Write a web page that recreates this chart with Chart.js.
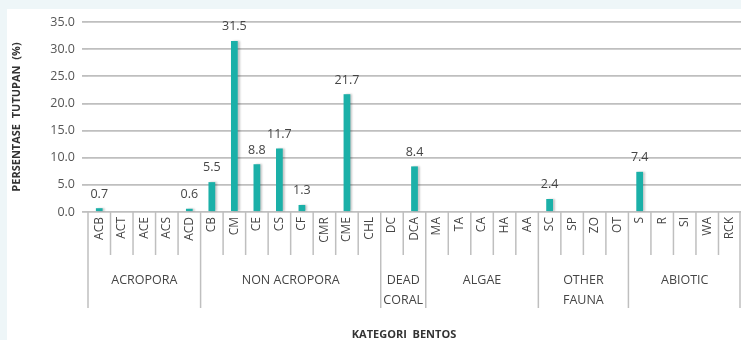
<!DOCTYPE html>
<html>
<head>
<meta charset="utf-8">
<script src="https://cdn.jsdelivr.net/npm/chart.js@4/dist/chart.umd.min.js"></script>
<style>
  html, body { margin: 0; padding: 0; background: #eef6f8; }
  #sheet { position: absolute; left: 7px; top: 9px; right: 0; bottom: 0; width: 734px; height: 331px; background: #ffffff; }
  #chart { position: absolute; left: 0; top: 0; }
</style>
</head>
<body>
<div id="sheet"></div>
<canvas id="chart" width="741" height="340"></canvas>
<script>
// Benthic categories (codes) and their cover percentages
const categories = ['ACB','ACT','ACE','ACS','ACD',
                    'CB','CM','CE','CS','CF','CMR','CME','CHL',
                    'DC','DCA',
                    'MA','TA','CA','HA','AA',
                    'SC','SP','ZO','OT',
                    'S','R','SI','WA','RCK'];
const coverValues = [0.7, 0, 0, 0, 0.6,
                     5.5, 31.5, 8.8, 11.7, 1.3, 0, 21.7, 0,
                     0, 8.4,
                     0, 0, 0, 0, 0,
                     2.4, 0, 0, 0,
                     7.4, 0, 0, 0, 0];
// Group headings below the codes, and how many codes each spans
const groupNames = ['ACROPORA', 'NON ACROPORA', 'DEAD\nCORAL', 'ALGAE', 'OTHER\nFAUNA', 'ABIOTIC'];
const groupSizes = [5, 8, 2, 5, 4, 5];
const yTicks = [0, 5, 10, 15, 20, 25, 30, 35];

const BAR = '#1bb0a8';
const TEXT = '#454545';
const LINE = '#bfbfbf';
const FONT = '"Open Sans", "Liberation Sans", sans-serif';

// Soft shadow to the right of each bar
const barShadow = {
  id: 'barShadow',
  beforeDatasetDraw(chart) {
    const ctx = chart.ctx;
    ctx.save();
    ctx.shadowColor = 'rgba(0,0,0,0.22)';
    ctx.shadowOffsetX = 2;
    ctx.shadowOffsetY = 0;
    ctx.shadowBlur = 2;
  },
  afterDatasetDraw(chart) { chart.ctx.restore(); }
};

// Value labels above non-zero bars
const valueLabels = {
  id: 'valueLabels',
  afterDatasetsDraw(chart) {
    const ctx = chart.ctx;
    const meta = chart.getDatasetMeta(0);
    ctx.save();
    ctx.font = '12.5px ' + FONT;
    ctx.fillStyle = TEXT;
    ctx.textAlign = 'center';
    ctx.textBaseline = 'bottom';
    meta.data.forEach((bar, i) => {
      const v = coverValues[i];
      if (!v) return;
      ctx.fillText(v.toFixed(1), bar.x, bar.y - 8);
    });
    ctx.restore();
  }
};

// Two-level category axis: rotated codes, separators, group headings, titles
const categoryAxis = {
  id: 'categoryAxis',
  afterDraw(chart) {
    const ctx = chart.ctx;
    const xs = chart.scales.x;
    const area = chart.chartArea;
    const step = xs.getPixelForValue(1) - xs.getPixelForValue(0);
    const base = area.bottom;
    ctx.save();

    // separators between codes and between groups
    const groupEdges = new Set([0]);
    let acc = 0;
    groupSizes.forEach(n => { acc += n; groupEdges.add(acc); });
    ctx.strokeStyle = LINE;
    ctx.lineWidth = 1.5;
    for (let i = 0; i <= categories.length; i++) {
      const bx = Math.min(xs.getPixelForValue(0) - step / 2 + i * step, area.right - 1);
      const end = groupEdges.has(i) ? base + 96 : base + 43;
      ctx.beginPath();
      ctx.moveTo(bx, base);
      ctx.lineTo(bx, end);
      ctx.stroke();
    }

    // rotated category codes
    ctx.fillStyle = TEXT;
    ctx.font = '12px ' + FONT;
    ctx.textAlign = 'right';
    ctx.textBaseline = 'middle';
    categories.forEach((c, i) => {
      const cx = xs.getPixelForValue(i);
      ctx.save();
      ctx.translate(cx, base + 5);
      ctx.rotate(-Math.PI / 2);
      ctx.fillText(c, 0, 0);
      ctx.restore();
    });

    // group headings
    ctx.font = '12.5px ' + FONT;
    ctx.textAlign = 'center';
    let start = 0;
    groupNames.forEach((name, g) => {
      const first = xs.getPixelForValue(start) - step / 2;
      const last = xs.getPixelForValue(start + groupSizes[g] - 1) + step / 2;
      const cx = (first + last) / 2;
      name.split('\n').forEach((line, k) => {
        ctx.fillText(line, cx, base + 68 + k * 20);
      });
      start += groupSizes[g];
    });

    // axis titles
    ctx.fillStyle = '#333333';
    ctx.font = 'bold 11px ' + FONT;
    ctx.fillText('KATEGORI  BENTOS', 404, 335);
    ctx.save();
    ctx.translate(17, (area.top + area.bottom) / 2);
    ctx.rotate(-Math.PI / 2);
    ctx.fillText('PERSENTASE  TUTUPAN  (%)', 0, 0);
    ctx.restore();

    ctx.restore();
  }
};

new Chart(document.getElementById('chart'), {
  type: 'bar',
  data: {
    labels: categories,
    datasets: [{
      data: coverValues,
      backgroundColor: BAR,
      borderWidth: 0,
      categoryPercentage: 1,
      barPercentage: 0.3
    }]
  },
  options: {
    responsive: false,
    animation: false,
    devicePixelRatio: 1,
    layout: { padding: { left: 0, right: 0, top: 22, bottom: 128 } },
    plugins: { legend: { display: false }, tooltip: { enabled: false } },
    scales: {
      x: {
        type: 'category',
        offset: true,
        display: false
      },
      y: {
        min: 0,
        max: 35,
        afterFit(scale) { scale.width = 88; },
        afterBuildTicks(scale) { scale.ticks = yTicks.map(v => ({ value: v })); },
        border: { display: false },
        grid: {
          color: LINE,
          lineWidth: 1.8,
          drawTicks: true,
          tickLength: 6,
          tickColor: LINE
        },
        ticks: {
          padding: 7,
          color: '#555555',
          font: { family: FONT, size: 12.5 },
          callback: v => Number(v).toFixed(1)
        }
      }
    }
  },
  plugins: [barShadow, valueLabels, categoryAxis]
});
</script>
</body>
</html>
